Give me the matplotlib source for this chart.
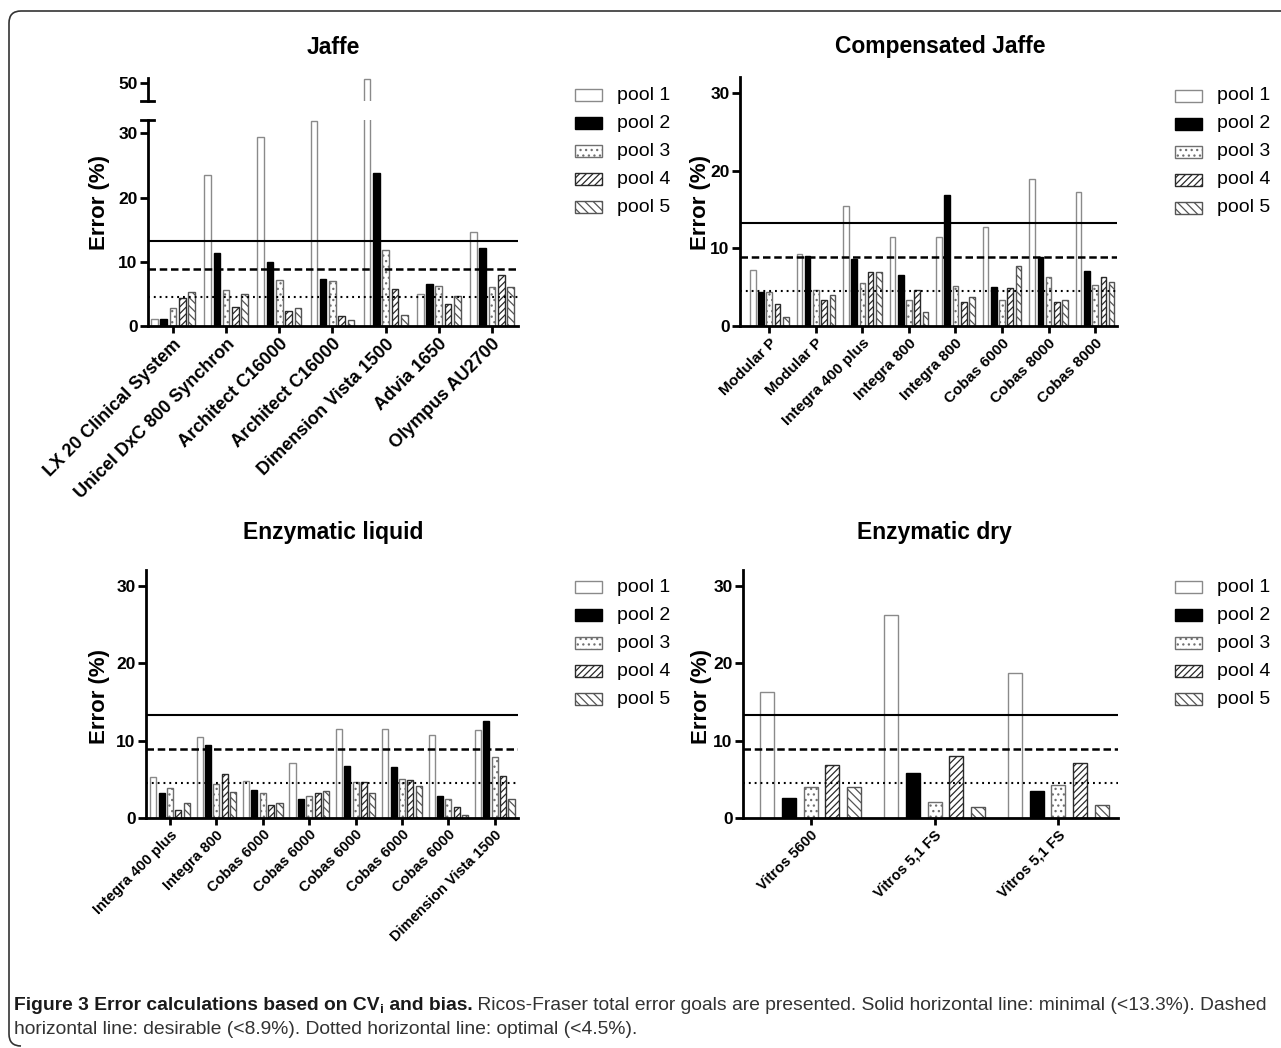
import matplotlib
matplotlib.use('Agg')
import matplotlib.pyplot as plt
from matplotlib.patches import Rectangle, PathPatch
from matplotlib.lines import Line2D
from matplotlib.path import Path

W, H = 1281, 1048
plt.rcParams['font.family'] = ['Liberation Sans', 'DejaVu Sans']
plt.rcParams['hatch.linewidth'] = 0.9

# ---------------- data ----------------
pool_names = ['pool 1', 'pool 2', 'pool 3', 'pool 4', 'pool 5']
goal_minimal = 13.3
goal_desirable = 8.9
goal_optimal = 4.5

jaffe_labels = ['LX 20 Clinical System', 'Unicel DxC 800 Synchron', 'Architect C16000',
                'Architect C16000', 'Dimension Vista 1500', 'Advia 1650', 'Olympus AU2700']
jaffe_pool1 = [1.15, 23.5, 29.4, 31.9, 50.6, 4.95, 14.7]
jaffe_pool2 = [1.15, 11.3, 10.0, 7.3, 23.9, 6.5, 12.1]
jaffe_pool3 = [2.8, 5.6, 7.1, 7.0, 11.8, 6.25, 6.0]
jaffe_pool4 = [4.4, 3.0, 2.3, 1.6, 5.8, 3.5, 7.9]
jaffe_pool5 = [5.3, 4.95, 2.8, 1.0, 1.7, 4.7, 6.0]

comp_labels = ['Modular P', 'Modular P', 'Integra 400 plus', 'Integra 800', 'Integra 800',
               'Cobas 6000', 'Cobas 8000', 'Cobas 8000']
comp_pool1 = [7.2, 9.3, 15.5, 11.5, 11.5, 12.8, 18.9, 17.25]
comp_pool2 = [4.4, 9.0, 8.6, 6.6, 16.9, 5.0, 8.9, 7.1]
comp_pool3 = [4.4, 4.6, 5.6, 3.3, 5.15, 3.3, 6.3, 5.3]
comp_pool4 = [2.8, 3.35, 7.0, 4.6, 3.05, 4.9, 3.05, 6.35]
comp_pool5 = [1.2, 4.0, 7.0, 1.8, 3.7, 7.7, 3.4, 5.65]

liq_labels = ['Integra 400 plus', 'Integra 800', 'Cobas 6000', 'Cobas 6000', 'Cobas 6000',
              'Cobas 6000', 'Cobas 6000', 'Dimension Vista 1500']
liq_pool1 = [5.35, 10.5, 4.75, 7.1, 11.55, 11.55, 10.8, 11.4]
liq_pool2 = [3.3, 9.5, 3.6, 2.5, 6.7, 6.65, 2.9, 12.6]
liq_pool3 = [3.9, 4.4, 3.2, 2.9, 4.7, 5.0, 2.4, 7.85]
liq_pool4 = [1.1, 5.7, 1.7, 3.2, 4.6, 4.9, 1.4, 5.5]
liq_pool5 = [1.95, 3.35, 2.0, 3.45, 3.3, 4.2, 0.45, 2.4]

dry_labels = ['Vitros 5600', 'Vitros 5,1 FS', 'Vitros 5,1 FS']
dry_pool1 = [16.3, 26.25, 18.8]
dry_pool2 = [2.6, 5.85, 3.55]
dry_pool3 = [4.0, 2.05, 4.25]
dry_pool4 = [6.8, 8.0, 7.1]
dry_pool5 = [4.05, 1.4, 1.65]

# ---------------- styles ----------------
styles = [
    dict(facecolor='white', edgecolor='#8a8a8a', hatch=None),
    dict(facecolor='black', edgecolor='black', hatch=None),
    dict(facecolor='white', edgecolor='#707070', hatch='...'),
    dict(facecolor='white', edgecolor='#2a2a2a', hatch='/////'),
    dict(facecolor='white', edgecolor='#555555', hatch='\\\\\\\\'),
]

fig = plt.figure(figsize=(W / 100, H / 100), dpi=100)


def add_ax(left, top, right, bottom):
    return fig.add_axes([left / W, 1 - bottom / H, (right - left) / W, (bottom - top) / H])


def style_ax(ax, xfs):
    for s in ['top', 'right']:
        ax.spines[s].set_visible(False)
    for s in ['left', 'bottom']:
        ax.spines[s].set_linewidth(2.0)
    ax.tick_params(axis='y', length=6, width=2.0, pad=1.5, labelsize=12.5)
    ax.tick_params(axis='x', length=5, width=2.0, pad=2, labelsize=xfs)
    for lab in ax.get_yticklabels():
        lab.set_fontweight('bold')


def draw_panel(ax, labels, series, xlim, pitch, width, xfs, ylim=(0, 32.1), yticks=(0, 10, 20, 30),
               lines=True, xlabels=True):
    x = list(range(len(labels)))
    for k, vals in enumerate(series):
        off = (k - 2) * pitch
        ax.bar([xi + off for xi in x], vals, width=width, linewidth=1.0, zorder=2, **styles[k])
    if lines:
        ax.axhline(goal_minimal, color='black', lw=1.5, zorder=3)
        ax.axhline(goal_desirable, color='black', lw=1.8, ls=(0, (3.0, 1.5)), zorder=3)
        ax.axhline(goal_optimal, color='black', lw=1.5, ls=(0, (0.9, 1.9)), zorder=3)
    ax.set_xlim(*xlim)
    ax.set_ylim(*ylim)
    ax.set_yticks(list(yticks))
    style_ax(ax, xfs)
    if xlabels:
        ax.set_xticks(x)
        ax.set_xticklabels(labels, rotation=45, ha='right', va='top', rotation_mode='anchor',
                           fontweight='bold', fontsize=xfs)
    else:
        ax.set_xticks([])
        ax.spines['bottom'].set_visible(False)


def legend(x0, y0):
    for k, name in enumerate(pool_names):
        yc = y0 + 28 * k
        st = dict(styles[k])
        r = Rectangle((x0 / W, 1 - (yc + 6) / H), 27 / W, 12 / H, transform=fig.transFigure,
                      linewidth=1.0, **st)
        fig.add_artist(r)
        fig.text((x0 + 42) / W, 1 - yc / H, name, fontsize=14, va='center', ha='left')


def ylabel(x, y):
    fig.text(x / W, 1 - y / H, 'Error (%)', rotation=90, fontsize=16, fontweight='bold',
             ha='center', va='center')


def title(x, y, s):
    fig.text(x / W, 1 - y / H, s, fontsize=16.5, fontweight='bold', ha='center', va='center')


# ---- Jaffe (broken axis) ----
jaffe_series = [jaffe_pool1, jaffe_pool2, jaffe_pool3, jaffe_pool4, jaffe_pool5]
ax_j = add_ax(148, 120, 518, 326)
draw_panel(ax_j, jaffe_labels, jaffe_series, (-0.47, 6.49), 0.175, 0.125, 13)
ax_jt = add_ax(148, 78.3, 518, 100.7)
draw_panel(ax_jt, jaffe_labels, jaffe_series, (-0.47, 6.49), 0.175, 0.125, 13,
           ylim=(47.2, 50.75), yticks=(50,), lines=False, xlabels=False)
for yy in (120, 100.7):
    fig.add_artist(Line2D([141 / W, 154 / W], [1 - yy / H, 1 - yy / H], transform=fig.transFigure,
                          color='black', lw=2.0))
title(333, 47, 'Jaffe')
ylabel(100, 202)
legend(575, 95)

# ---- Compensated Jaffe ----
ax_c = add_ax(740, 77, 1117, 326)
draw_panel(ax_c, comp_labels, [comp_pool1, comp_pool2, comp_pool3, comp_pool4, comp_pool5],
           (-0.63, 7.47), 0.177, 0.122, 11)
title(940, 47, 'Compensated Jaffe')
ylabel(700, 203)
legend(1175, 96)

# ---- Enzymatic liquid ----
ax_l = add_ax(146, 570, 518, 818)
draw_panel(ax_l, liq_labels, [liq_pool1, liq_pool2, liq_pool3, liq_pool4, liq_pool5],
           (-0.517, 7.5), 0.18, 0.13, 10.5)
title(333, 533, 'Enzymatic liquid')
ylabel(100, 697)
legend(575, 587)

# ---- Enzymatic dry ----
ax_d = add_ax(743, 570, 1118, 818)
draw_panel(ax_d, dry_labels, [dry_pool1, dry_pool2, dry_pool3, dry_pool4, dry_pool5],
           (-0.547, 2.482), 0.175, 0.113, 10.5)
title(934, 533, 'Enzymatic dry')
ylabel(701, 697)
legend(1175, 587)

# ---- frame ----
def fy(y):
    return 1 - y / H

r = 12
verts = [(1281 / W, fy(11)), ((9 + r) / W, fy(11)), (9 / W, fy(11)), (9 / W, fy(11 + r)),
         (9 / W, fy(1046 - r)), (9 / W, fy(1046)), ((9 + r) / W, fy(1046))]
codes = [Path.MOVETO, Path.LINETO, Path.CURVE3, Path.CURVE3, Path.LINETO, Path.CURVE3, Path.CURVE3]
fig.add_artist(PathPatch(Path(verts, codes), transform=fig.transFigure, fill=False,
                         edgecolor='#333333', lw=1.2))

# ---- caption ----
cap_font = ['Liberation Sans', 'DejaVu Sans']
cap_texts_bold = ['Figure 3 Error calculations based on CV', 'i', ' and bias.']
cap_text_rest = (' Ricos-Fraser total error goals are presented. Solid horizontal line: '
                 'minimal (<13.3%). Dashed')
cap_line2 = 'horizontal line: desirable (<8.9%). Dotted horizontal line: optimal (<4.5%).'

fig.canvas.draw()
rend = fig.canvas.get_renderer()


def place_caption(fs, y1=1010):
    arts = []
    x = 14
    parts = [(cap_texts_bold[0], 'bold', fs, 0, '#1a1a1a'),
             (cap_texts_bold[1], 'bold', fs * 0.7, 3, '#1a1a1a'),
             (cap_texts_bold[2], 'bold', fs, 0, '#1a1a1a'),
             (cap_text_rest, 'normal', fs, 0, '#333333')]
    for s, wgt, size, dy, col in parts:
        t = fig.text(x / W, fy(y1 + dy), s, family=cap_font, fontweight=wgt, fontsize=size,
                     color=col, va='baseline')
        arts.append(t)
        x = t.get_window_extent(rend).x1
    t = fig.text(14 / W, fy(1034), cap_line2, family=cap_font, fontsize=fs, color='#333333',
                 va='baseline')
    arts.append(t)
    return arts, x


arts, xend = place_caption(12)
fs_fit = 12 * (1268 - 14) / (xend - 14)
for a in arts:
    a.remove()
place_caption(fs_fit)

fig.savefig('out.png', dpi=100, facecolor='white')
